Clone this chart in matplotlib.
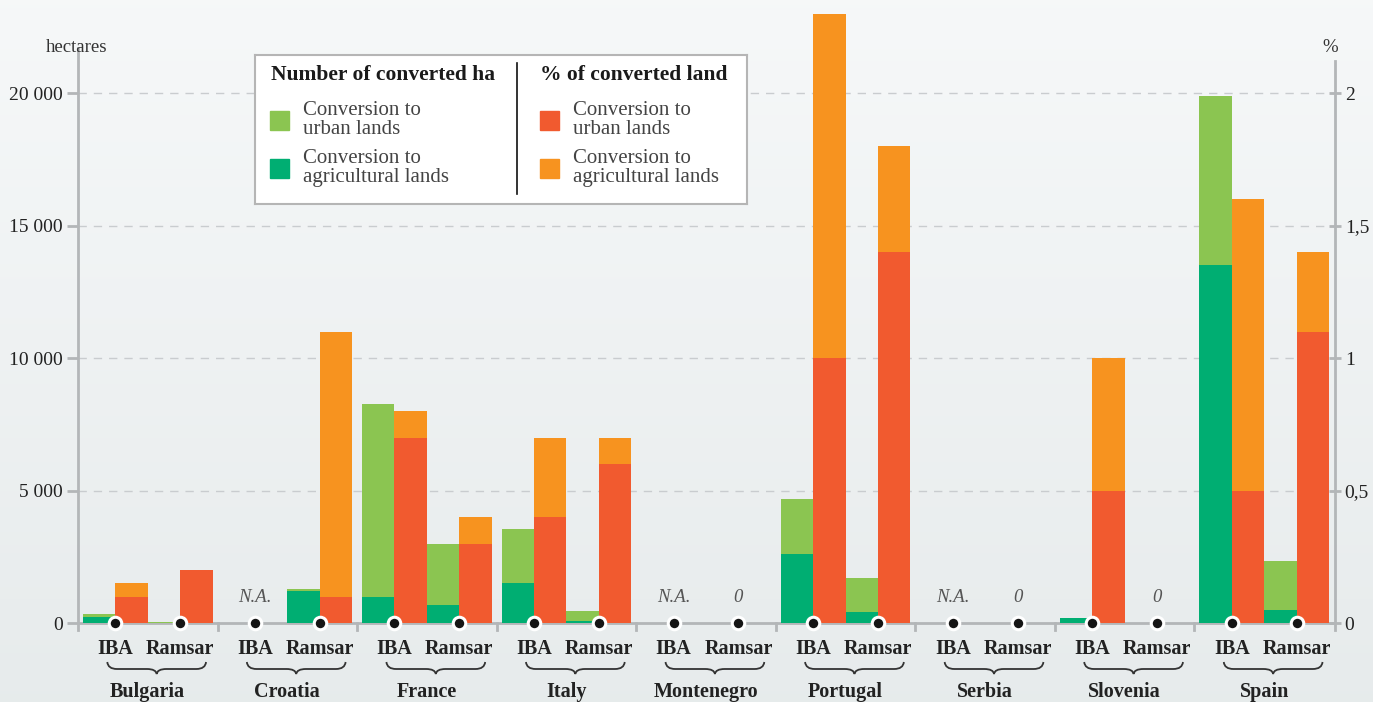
import numpy as np
import matplotlib.pyplot as plt
from matplotlib.patches import Rectangle
from matplotlib.path import Path
from matplotlib.patches import PathPatch
import matplotlib.transforms as mtransforms

plt.rcParams['font.family'] = ['Liberation Serif', 'DejaVu Serif']

countries = ['Bulgaria', 'Croatia', 'France', 'Italy', 'Montenegro',
             'Portugal', 'Serbia', 'Slovenia', 'Spain']

# hectares (left axis)
iba_ha_agri = [230, np.nan, 1000, 1500, np.nan, 2600, np.nan, 190, 13500]
iba_ha_urban = [110, np.nan, 7280, 2050, np.nan, 2080, np.nan, 0, 6400]
ram_ha_agri = [0, 1220, 690, 80, 0, 415, 0, 0, 480]
ram_ha_urban = [50, 70, 2310, 370, 0, 1285, 0, 0, 1870]

# % of converted land (right axis)
iba_pct_urban = [0.10, np.nan, 0.70, 0.40, np.nan, 1.00, np.nan, 0.50, 0.50]
iba_pct_agri = [0.05, np.nan, 0.10, 0.30, np.nan, 1.30, np.nan, 0.50, 1.10]
ram_pct_urban = [0.20, 0.10, 0.30, 0.60, 0, 1.40, 0, 0, 1.10]
ram_pct_agri = [0, 1.00, 0.10, 0.10, 0, 0.40, 0, 0, 0.30]

# text shown in place of missing bars
iba_note = ['', 'N.A.', '', '', 'N.A.', '', 'N.A.', '', '']
ram_note = ['', '', '', '', '0', '', '0', '0', '']

c_light = '#8bc551'
c_dark = '#00ae72'
c_red = '#f15a2f'
c_orange = '#f7931f'
axis_grey = '#b3b6b8'

W, H = 1373, 702
fig = plt.figure(figsize=(W / 100, H / 100), dpi=100)

# background gradient
bg = fig.add_axes([0, 0, 1, 1], zorder=-5)
grad = np.linspace(0, 1, 256).reshape(-1, 1)
top = np.array([0.965, 0.973, 0.976])
bot = np.array([0.905, 0.922, 0.925])
img = top + (bot - top) * grad[..., None]
bg.imshow(img, aspect='auto', extent=[0, 1, 0, 1])
bg.axis('off')

y0_px, y20k_px = 623, 93
px_per_ha = (y0_px - y20k_px) / 20000
ytop = y0_px / px_per_ha
ybot = -7 / px_per_ha

pitch = 4.31
xl = -2 - 5 / 32.4
xr = 8 * pitch + 2 + 6 / 32.4
ax = fig.add_axes([78 / W, (H - 630) / H, (1335 - 78) / W, 630 / H])
ax.set_facecolor('none')
ax.set_xlim(xl, xr)
ax.set_ylim(ybot, ytop)
ax2 = ax.twinx()
ax2.set_ylim(ybot / 10000, ytop / 10000)

n = len(countries)
centers = np.arange(n) * pitch
a = lambda v: np.nan_to_num(np.array(v, dtype=float))

ax.bar(centers - 1.5, a(iba_ha_agri), width=1, color=c_dark, zorder=3)
ax.bar(centers - 1.5, a(iba_ha_urban), bottom=a(iba_ha_agri), width=1, color=c_light, zorder=3)
ax.bar(centers + 0.5, a(ram_ha_agri), width=1, color=c_dark, zorder=3)
ax.bar(centers + 0.5, a(ram_ha_urban), bottom=a(ram_ha_agri), width=1, color=c_light, zorder=3)
ax.bar(centers - 0.5, a(iba_pct_urban) * 10000, width=1, color=c_red, zorder=3, clip_on=False)
ax.bar(centers - 0.5, a(iba_pct_agri) * 10000, bottom=a(iba_pct_urban) * 10000, width=1,
       color=c_orange, zorder=3, clip_on=False)
ax.bar(centers + 1.5, a(ram_pct_urban) * 10000, width=1, color=c_red, zorder=3)
ax.bar(centers + 1.5, a(ram_pct_agri) * 10000, bottom=a(ram_pct_urban) * 10000, width=1,
       color=c_orange, zorder=3)

# grid
for g in [5000, 10000, 15000, 20000]:
    ax.axhline(g, color='#c9cccf', lw=1, ls=(0, (6, 5)), zorder=1)
ax.axhline(0, color=axis_grey, lw=2, zorder=2)

# spines & ticks
for s in ['top', 'bottom']:
    ax.spines[s].set_visible(False)
    ax2.spines[s].set_visible(False)
ax2.spines['left'].set_visible(False)
ax.spines['right'].set_visible(False)
ax.spines['left'].set_color(axis_grey)
ax.spines['left'].set_linewidth(2)
ax.spines['left'].set_bounds(ybot, 21700)
ax2.spines['right'].set_color(axis_grey)
ax2.spines['right'].set_linewidth(2)
ax2.spines['right'].set_bounds(ybot / 10000, 2.12)

ax.set_yticks([0, 5000, 10000, 15000, 20000])
ax.set_yticklabels(['0', '5 000', '10 000', '15 000', '20 000'])
ax2.set_yticks([0, 0.5, 1, 1.5, 2])
ax2.set_yticklabels(['0', '0,5', '1', '1,5', '2'])
ax.tick_params(axis='y', length=8, width=2, color=axis_grey, labelsize=14, labelcolor='#222222', pad=3)
ax2.tick_params(axis='y', length=8, width=2, color=axis_grey, labelsize=14, labelcolor='#222222', pad=3,
                direction='inout')
ax.set_xticks([])

# boundary ticks between countries
for b in centers[:-1] + pitch / 2:
    ax.plot([b, b], [ybot, 0], color=axis_grey, lw=2, zorder=2, clip_on=False)

# markers at bar junctions
mx = np.concatenate([centers - 1, centers + 1])
ax2.plot(mx, np.zeros_like(mx), 'o', ms=9, mfc='#151515', mec='white', mew=2.2,
         zorder=10, clip_on=False)

for i in range(n):
    if iba_note[i]:
        ax.text(centers[i] - 1, 650, iba_note[i], ha='center', va='bottom', style='italic',
                fontsize=13.5, color='#555555')
    if ram_note[i]:
        ax.text(centers[i] + 1, 650, ram_note[i], ha='center', va='bottom', style='italic',
                fontsize=13.5, color='#555555')

# labels below axis
trans = mtransforms.blended_transform_factory(ax.transData, fig.transFigure)
fy = lambda py: 1 - py / H
for i, c in enumerate(countries):
    ax.text(centers[i] - 1, fy(649), 'IBA', transform=trans, ha='center', va='center',
            fontsize=14.5, fontweight='bold', color='#222222')
    ax.text(centers[i] + 1, fy(649), 'Ramsar', transform=trans, ha='center', va='center',
            fontsize=14.5, fontweight='bold', color='#222222')
    ax.text(centers[i], fy(692), c, transform=trans, ha='center', va='center',
            fontsize=14.5, fontweight='bold', color='#222222')
    # brace: two curled ends and a pointed middle
    x1, x2 = centers[i] - 1.25, centers[i] + 1.8
    xm = (x1 + x2) / 2
    yt, yb = fy(662), fy(674)
    ym = fy(669)
    dx = 0.3
    verts = [(x1, yt), (x1 + 0.02, ym), (x1 + dx, ym),
             (xm - dx, ym), (xm - 0.02, ym), (xm, yb),
             (xm + 0.02, ym), (xm + dx, ym),
             (x2 - dx, ym), (x2 - 0.02, ym), (x2, yt)]
    codes = [Path.MOVETO, Path.CURVE3, Path.CURVE3,
             Path.LINETO, Path.CURVE3, Path.CURVE3,
             Path.CURVE3, Path.CURVE3,
             Path.LINETO, Path.CURVE3, Path.CURVE3]
    ax.add_patch(PathPatch(Path(verts, codes), transform=trans, fill=False,
                           lw=1.3, color='#333333', clip_on=False))

fig.text(77 / W, fy(48), 'hectares', ha='center', va='center', fontsize=13.5, color='#333333')
fig.text(1330 / W, fy(48), '%', ha='center', va='center', fontsize=13.5, color='#333333')

# legend box
lg = fig.add_axes([255 / W, (H - 204) / H, (747 - 255) / W, (204 - 55) / H], zorder=20)
lg.set_xlim(255, 747)
lg.set_ylim(204, 55)
lg.set_xticks([])
lg.set_yticks([])
lg.set_facecolor('white')
for s in lg.spines.values():
    s.set_color('#b5b5b5')
    s.set_linewidth(1.5)
lg.plot([517, 517], [63, 194], color='#111111', lw=1.2)
lg.text(271, 75, 'Number of converted ha', fontsize=15.5, fontweight='bold', va='center', color='#1a1a1a')
lg.text(540, 75, '% of converted land', fontsize=15.5, fontweight='bold', va='center', color='#1a1a1a')
items = [(270, 111, c_light, 303), (270, 159, c_dark, 303),
         (540, 111, c_red, 573), (540, 159, c_orange, 573)]
labels = ['Conversion to\nurban lands', 'Conversion to\nagricultural lands',
          'Conversion to\nurban lands', 'Conversion to\nagricultural lands']
for (px, py, col, tx), lab in zip(items, labels):
    lg.add_patch(Rectangle((px, py), 19, 19, color=col))
    lg.text(tx, py + 9, lab, fontsize=15, va='center', color='#444444', linespacing=0.95)

fig.savefig('out.png', dpi=100)
